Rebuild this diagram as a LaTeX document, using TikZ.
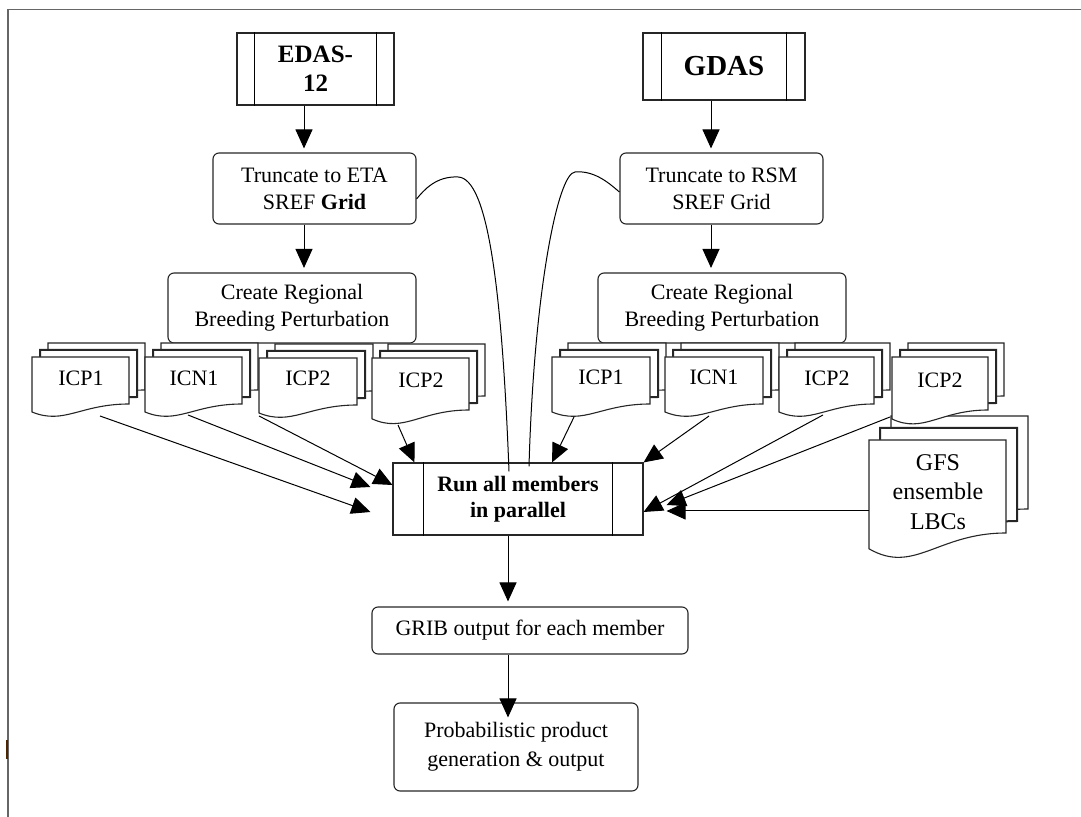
\documentclass[tikz,border=0pt]{standalone}
\usepackage{fontspec}
\setmainfont{Liberation Serif}
\usetikzlibrary{calc,positioning,arrows.meta}
\tikzset{
  pics/docsheet/.style 2 args={code={
    \draw[sheet] (0,0) -- (#1,0) -- (#1,#2)
      .. controls (0.5*#1,#2) and (0.33*#1,1.45*#2) .. (0,1.17*#2) -- cycle;
  }}
}
% three sheets: x, y (front top left), w, h, dx, dy
\newcommand{\docstack}[6]{%
  \pic at (#1+2*#5,#2-2*#6) {docsheet={#3}{#4}};
  \pic[line width=1pt] at (#1+#5,#2-#6) {docsheet={#3}{#4}};
  \pic at (#1,#2) {docsheet={#3}{#4}};
}
\begin{document}
\begin{tikzpicture}
    [x=0.5pt,y=-0.5pt,line width=0.55pt,
    every node/.style={font=\fontsize{11}{13.5}\selectfont},
    flowbox/.style={draw=black!85, rounded corners=3pt, align=center, inner sep=0pt},
    predef/.style={draw=black!85, align=center, inner sep=0pt},
    sheet/.style={fill=white, draw=black!85},
    doclabel/.style={align=center, inner sep=1pt},
    arr/.style={-{Triangle[length=9.5pt,width=8.5pt]}, line width=0.5pt},
    link/.style={line width=0.5pt}]
  \useasboundingbox (0,0) rectangle (1081,817);
  \draw[black!60] (8,817) -- (8,9.5) -- (1081,9.5);
  \draw[line width=1.1pt, black!70!orange] (7,740) -- (7,759);

  % sources
  \node[predef, minimum width=78.5pt, minimum height=36pt,
    font=\bfseries\fontsize{12.5}{14.7}\selectfont] (edas) at (315.5,69) {EDAS-\\12};
  \node[predef, minimum width=81pt, minimum height=33.5pt,
    font=\bfseries\fontsize{14.5}{16}\selectfont] (gdas) at (724,66.5) {GDAS};
  \node[flowbox, minimum width=101.5pt, minimum height=35.5pt] (etatrunc) at (314.5,188.5)
    {Truncate to ETA\\SREF \textbf{Grid}};
  \node[flowbox, minimum width=101.5pt, minimum height=35.5pt] (rsmtrunc) at (721.5,188.5)
    {Truncate to RSM\\SREF Grid};
  \node[flowbox, minimum width=124pt, minimum height=35pt] (lcreate) at (292,308)
    {Create Regional\\Breeding Perturbation};
  \node[flowbox, minimum width=124pt, minimum height=35pt] (rcreate) at (722,308)
    {Create Regional\\Breeding Perturbation};

  % perturbation sheets
  \docstack{32}{357}{97}{47}{8}{7}
  \docstack{145}{357}{97}{47}{8}{7}
  \docstack{259}{358}{98}{47}{8}{7}
  \docstack{372}{358}{97}{52}{8}{7}
  \docstack{552}{357}{98}{47}{8}{7}
  \docstack{665}{357}{98}{47}{8}{7}
  \docstack{779}{357}{95}{47}{8}{7}
  \docstack{869}{440}{137}{93}{11}{12}
  \docstack{892}{357}{96}{53}{8}{7}
  \node[doclabel] (lp1) at (81,378) {ICP1};
  \node[doclabel] (ln1) at (194,378) {ICN1};
  \node[doclabel] (lp2) at (308,378) {ICP2};
  \node[doclabel] (lq2) at (421,380) {ICP2};
  \node[doclabel] (rp1) at (601,377) {ICP1};
  \node[doclabel] (rn1) at (714,377) {ICN1};
  \node[doclabel] (rp2) at (827,378) {ICP2};
  \node[doclabel] (rq2) at (940,380) {ICP2};
  \node[doclabel, font=\fontsize{12}{14.75}\selectfont] (gfs) at (938,492) {GFS\\ensemble\\LBCs};

  % model run and output
  \node[predef, minimum width=125pt, minimum height=36pt,
    font=\bfseries\fontsize{11}{13}\selectfont] (run) at (518,499) {Run all members\\in parallel};
  \node[flowbox, minimum width=158pt, minimum height=23.5pt] (grib) at (530,630.5)
    {GRIB output for each member};
  \node[flowbox, minimum width=122pt, minimum height=44pt,
    font=\fontsize{11}{14.5}\selectfont] (prob) at (516,747)
    {Probabilistic product\\generation \& output};
  \foreach \n/\d in {edas/18,gdas/19,run/31} {
    \draw ($(\n.north west)+(\d,0)$) -- ($(\n.south west)+(\d,0)$);
    \draw ($(\n.north east)+(-\d,0)$) -- ($(\n.south east)+(-\d,0)$);
  }

  % arrows
  \draw[arr] ($(edas.south)+(-11.5,0)$) -- ($(etatrunc.north)+(-10.5,-4)$);
  \draw[arr] ($(etatrunc.south)+(-10.5,0)$) -- ($(lcreate.north)+(12,-4.5)$);
  \draw[arr] ($(gdas.south)+(-13,0)$) -- ($(rsmtrunc.north)+(-10.5,-4)$);
  \draw[arr] ($(rsmtrunc.south)+(-10.5,0)$) -- ($(rcreate.north)+(-11,-4.5)$);
  \draw[arr] ($(lp1)+(19,38)$) -- ($(run.west)+(-22,13)$);
  \draw[arr] ($(ln1)+(-6,37)$) -- ($(run.west)+(-22,-12)$);
  \draw[arr] ($(lp2)+(-49,38)$) -- ($(run.west)+(0,-14)$);
  \draw[arr] ($(lq2)+(-23,45)$) -- ($(run.north west)+(22,0)$);
  \draw[arr] ($(rp1)+(-27,40)$) -- ($(run.north)+(34,0)$);
  \draw[arr] ($(rn1)+(-5,39)$) -- (run.north east);
  \draw[arr] ($(rp2)+(-4,37)$) -- ($(run.east)+(0,13)$);
  \draw[arr] ($(rq2)+(-50,37)$) -- ($(run.east)+(23,6)$);
  \draw[arr] ($(gfs)+(-69,19)$) -- ($(run.east)+(23,12)$);
  \draw[link] ($(etatrunc.east)+(0,10.5)$) .. controls (424,190) and (436,176) .. (458,177)
    .. controls (488,178) and (502,290) .. ($(run.north)+(-9,9)$);
  \draw[link] ($(rsmtrunc.west)+(0,3.5)$) .. controls (612,186) and (596,170) .. (575,172)
    .. controls (558,173) and (534,290) .. ($(run.north)+(11,4)$);
  \draw[arr] ($(run.south)+(-10,0)$) -- ($(grib.north)+(-22,-5)$);
  \draw[arr] ($(grib.south)+(-22,0)$) -- ($(prob.north)+(-8,15)$);
\end{tikzpicture}
\end{document}
